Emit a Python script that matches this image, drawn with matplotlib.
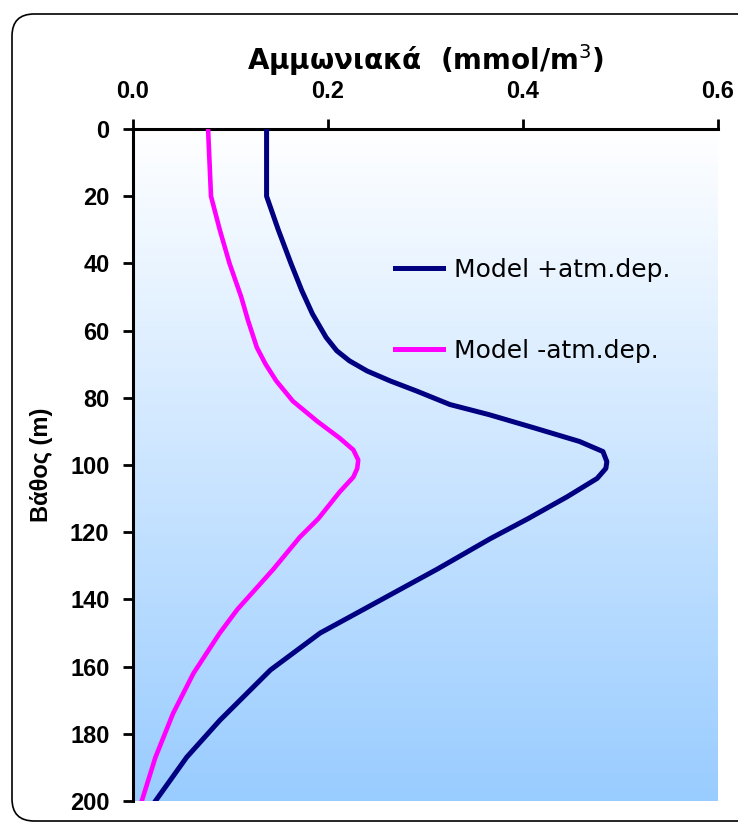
import numpy as np
import matplotlib
matplotlib.use("Agg")
import matplotlib.pyplot as plt
from matplotlib.patches import FancyBboxPatch
from matplotlib.colors import LinearSegmentedColormap

# depth profiles (m) and ammonium concentration (mmol/m3)
depth_plus = [0, 20, 30, 40, 48, 55, 62, 66, 69, 72, 75, 78, 82, 85, 89, 93,
              96, 99, 101, 104, 109.5, 116, 122, 131, 144, 150, 161, 176, 187, 200]
with_dep = [0.137, 0.137, 0.149, 0.162, 0.173, 0.184, 0.198, 0.209, 0.222,
            0.240, 0.264, 0.291, 0.325, 0.365, 0.412, 0.458, 0.482, 0.486,
            0.485, 0.476, 0.445, 0.405, 0.366, 0.312, 0.230, 0.192, 0.141,
            0.089, 0.055, 0.023]
depth_minus = [0, 20, 30, 40, 50, 57, 65, 70, 75, 81, 87, 92, 95.5, 98.5,
               101, 103.6, 108, 116, 121.5, 131, 143, 150, 162, 174, 187, 200]
without_dep = [0.077, 0.080, 0.089, 0.099, 0.111, 0.118, 0.127, 0.136, 0.147,
               0.164, 0.189, 0.212, 0.226, 0.231, 0.230, 0.226, 0.212, 0.190,
               0.171, 0.144, 0.107, 0.089, 0.062, 0.041, 0.023, 0.009]
labels = ['Model +atm.dep.', 'Model -atm.dep.']
xticks = [0.0, 0.2, 0.4, 0.6]
yticks = list(range(0, 201, 20))

W, H = 738, 823
fig = plt.figure(figsize=(W / 100, H / 100), dpi=100)

# rounded frame around the whole chart; its right side lies just past the canvas
frame = FancyBboxPatch((12 / W, 2 / H), 750 / W, 807 / H,
                       boxstyle="round,pad=0,rounding_size=0.03",
                       transform=fig.transFigure, facecolor='none',
                       edgecolor='black', linewidth=1.2, mutation_aspect=W / H)
fig.patches.append(frame)

ax = fig.add_axes([133 / W, 1 - 801 / H, (718 - 133) / W, (801 - 129) / H])

# white -> light blue vertical gradient background
cmap = LinearSegmentedColormap.from_list('bg', ['#99CCFF', '#FFFFFF'])
grad = np.linspace(0, 1, 256).reshape(-1, 1)
ax.imshow(grad, extent=[0, 1, 0, 1], transform=ax.transAxes, aspect='auto',
          cmap=cmap, origin='lower', zorder=0)

ax.plot(with_dep, depth_plus, color='#000080', lw=3.6, label=labels[0], zorder=3)
ax.plot(without_dep, depth_minus, color='#FF00FF', lw=3.3, label=labels[1], zorder=3)

ax.set_xlim(0, 0.6)
ax.set_ylim(200, 0)
ax.xaxis.tick_top()
ax.xaxis.set_label_position('top')
ax.set_xticks(xticks)
ax.set_xticklabels(['0.0', '0.2', '0.4', '0.6'])
ax.set_yticks(yticks)

for s in ['right', 'bottom']:
    ax.spines[s].set_visible(False)
for s in ['top', 'left']:
    ax.spines[s].set_linewidth(2.2)

ax.tick_params(axis='both', direction='out', length=7, width=2, color='black')
ax.tick_params(axis='x', pad=12)
ax.tick_params(axis='y', pad=10)
for lab in ax.get_xticklabels() + ax.get_yticklabels():
    lab.set_fontfamily('Liberation Sans')
    lab.set_fontweight('bold')
    lab.set_fontsize(17)

ax.set_xlabel('Αμμωνιακά  (mmol/m$^3$)', fontsize=20, fontweight='bold',
              family='DejaVu Sans', labelpad=7)
ax.set_ylabel('Βάθος (m)', fontsize=17, fontweight='bold',
              family='Liberation Sans', labelpad=12)

leg = ax.legend(loc='upper left', bbox_to_anchor=(0.41, 0.842), frameon=False,
                handlelength=1.9, handletextpad=0.45, labelspacing=2.3,
                prop={'family': 'DejaVu Sans', 'size': 18})
for h in leg.get_lines():
    h.set_linewidth(3.6)

fig.savefig('out.png', dpi=100)
